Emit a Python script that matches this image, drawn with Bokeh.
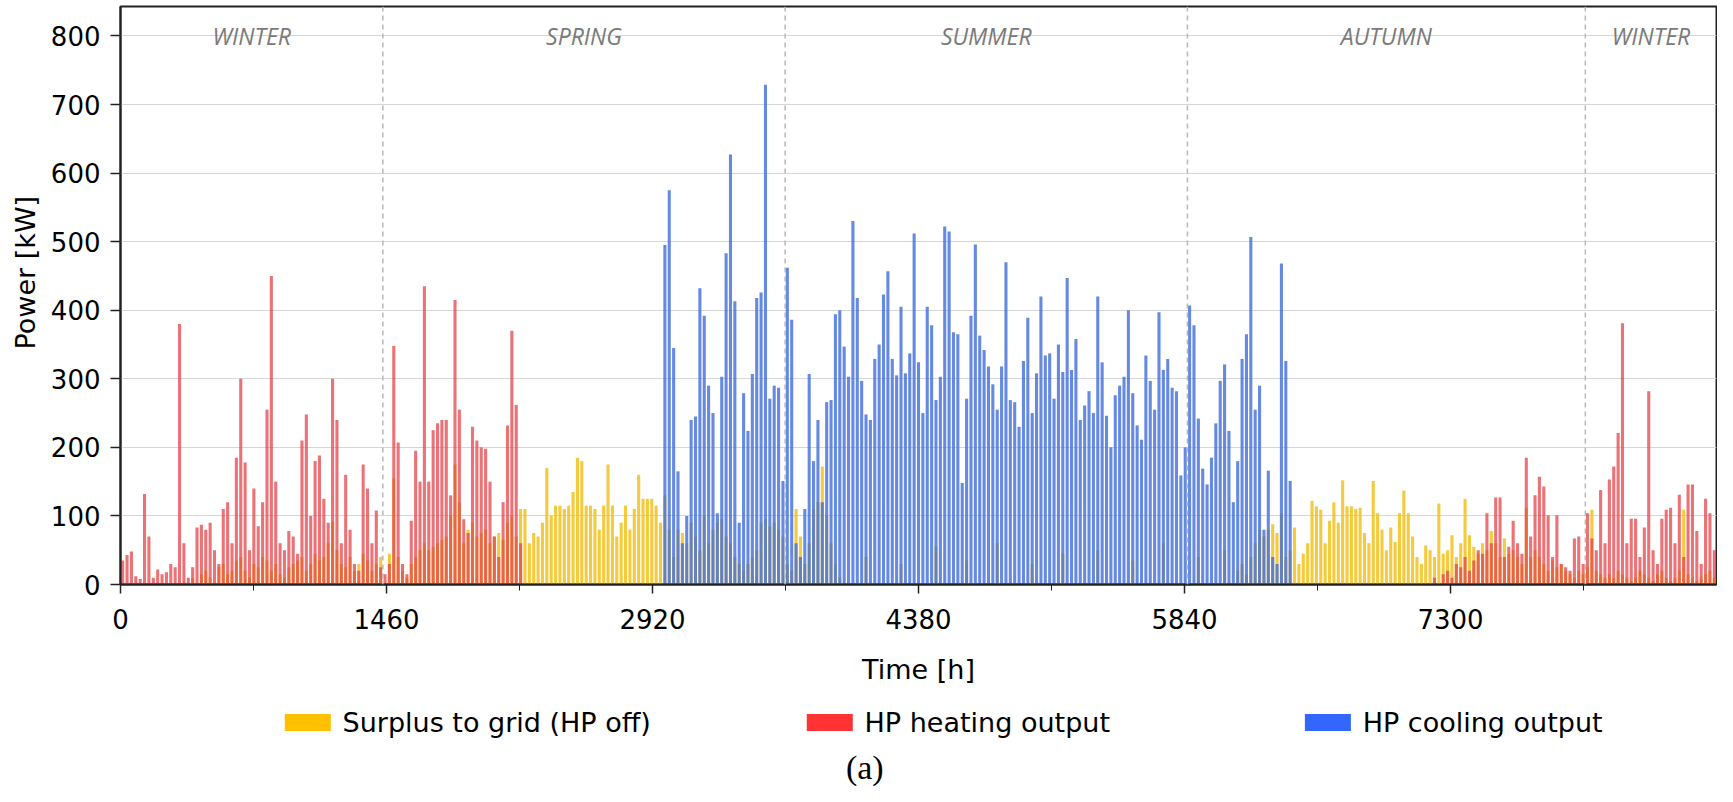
from bokeh.core.properties import value
from bokeh.embed import file_html
from bokeh.layouts import column
from bokeh.models import ColumnDataSource, FixedTicker, Label, Span, Title
from bokeh.plotting import figure
from bokeh.resources import INLINE

# daily peak power [kW]; each list starts at the given day
HEAT_SPRING_START = 0
HEAT_SPRING = [35, 43, 48, 12, 8, 132, 70, 10, 22, 15,
               18, 30, 25, 380, 60, 10, 25, 83, 87, 80,
               90, 50, 30, 110, 120, 60, 185, 300, 178, 50,
               140, 85, 120, 255, 450, 150, 60, 50, 78, 70,
               45, 210, 248, 100, 180, 188, 125, 90, 300, 240,
               60, 160, 80, 30, 20, 175, 140, 60, 108, 25,
               15, 30, 348, 207, 30, 15, 93, 195, 150, 435,
               150, 225, 235, 240, 240, 130, 415, 255, 95, 75,
               230, 210, 200, 198, 150, 70, 40, 120, 232, 370,
               262, 60]

HEAT_WINTER_START = 300
HEAT_WINTER = [10, 0, 15, 20, 10, 30, 25, 40, 20, 35,
               50, 45, 104, 60, 127, 127, 40, 55, 93, 60,
               45, 185, 70, 130, 157, 143, 101, 40, 101, 30,
               25, 20, 67, 70, 30, 104, 67, 50, 138, 60,
               153, 172, 221, 381, 60, 96, 96, 40, 83, 282,
               50, 30, 96, 109, 112, 60, 131, 40, 146, 146,
               78, 30, 125, 104, 50]

SURPLUS_WINTER_START = 15
SURPLUS_WINTER = [0, 10, 0, 15, 20, 10, 0, 25, 30, 15,
                  20, 35, 40, 20, 10, 30, 25, 40, 35, 20,
                  30, 15, 10, 25, 30, 35, 40, 20, 30, 45,
                  35, 40, 60, 92, 50, 30, 25, 40, 20, 30,
                  45, 35, 20, 30, 40]

SURPLUS_SPRING_START = 60
SURPLUS_SPRING = [0, 45, 155, 40, 20, 10, 30, 40, 50, 60,
                  50, 55, 60, 65, 70, 100, 175, 120, 60, 80,
                  90, 70, 75, 80, 60, 70, 75, 65, 90, 100,
                  70, 110, 110, 60, 75, 70, 90, 170, 100, 115,
                  115, 110, 115, 135, 185, 180, 115, 115, 110, 80,
                  115, 175, 115, 70, 90, 115, 80, 110, 160, 125,
                  125, 125, 115, 90, 130, 80, 40, 80, 75, 60,
                  90, 70, 50, 100, 60, 80, 90, 95, 70, 60,
                  40, 30, 20, 30, 40, 50, 90, 95, 85, 90,
                  80, 70, 30, 20, 110, 70, 30, 60, 110, 120,
                  172, 100, 60, 30, 10]

SURPLUS_SUMMER_DAYS = [170, 178, 186, 193, 200, 208, 215, 223, 231, 238, 246, 252]
SURPLUS_SUMMER = [40, 30, 55, 35, 60, 30, 45, 50, 35, 60, 40, 50]

SURPLUS_AUTUMN_START = 255
SURPLUS_AUTUMN = [20, 30, 15, 40, 60, 80, 70, 80, 88, 75,
                  104, 40, 50, 83, 30, 45, 60, 122, 114, 109,
                  60, 93, 120, 90, 152, 114, 114, 110, 112, 75,
                  60, 151, 104, 80, 50, 83, 62, 104, 137, 104,
                  70, 40, 30, 57, 50, 40, 118, 45, 50, 72,
                  40, 60, 125, 72, 55, 45, 60, 50, 78, 60,
                  40, 67, 45, 50, 40, 30, 112, 40, 50, 40,
                  30, 20, 35, 25, 30, 20, 15, 10, 20, 15,
                  25, 109, 20, 15, 10, 15, 10, 20, 15, 10,
                  5, 10, 20, 15, 10, 5, 15, 20, 10, 5,
                  10, 20, 109, 15, 10, 5, 10, 15, 20, 10]

COOL_START = 124
COOL = [495, 575, 345, 165, 60, 100, 240, 245, 432, 392,
        290, 250, 104, 303, 483, 627, 413, 90, 279, 224,
        307, 418, 426, 729, 271, 290, 287, 151, 462, 386,
        60, 40, 110, 307, 180, 240, 120, 266, 269, 394,
        400, 347, 303, 530, 418, 297, 248, 240, 329, 350,
        423, 457, 329, 305, 405, 308, 337, 512, 324, 250,
        405, 378, 269, 303, 522, 515, 368, 365, 148, 271,
        392, 496, 363, 342, 318, 292, 255, 318, 470, 269,
        266, 230, 326, 389, 250, 308, 420, 334, 337, 271,
        350, 310, 447, 313, 358, 240, 261, 282, 250, 420,
        324, 246, 200, 276, 290, 303, 400, 279, 232, 211,
        334, 297, 255, 397, 313, 329, 287, 282, 159, 200,
        407, 378, 242, 169, 146, 185, 235, 297, 321, 224,
        120, 180, 329, 365, 507, 255, 290, 80, 166, 40,
        30, 468, 326, 151]

SEASON_BOUNDS = [1440, 3648, 5856, 8040]
SEASONS = ["WINTER", "SPRING", "SUMMER", "AUTUMN", "WINTER"]
X_TICKS = [0, 1460, 2920, 4380, 5840, 7300]
X_MINOR = [730, 2190, 3650, 5110, 6570, 8030]
Y_TICKS = [0, 100, 200, 300, 400, 500, 600, 700, 800]

LEGEND_LABELS = ["Surplus to grid (HP off)", "HP heating output", "HP cooling output"]
LEGEND_COLORS = ["#FFC000", "#FF3333", "#3366FF"]

FONT = "DejaVu Sans"
W = 1717
LEFT, RIGHT = 114, 1


def day_source(start, vals):
    return ColumnDataSource(data=dict(x=[(start + i) * 24 + 12 for i in range(len(vals))],
                                      top=vals))


p = figure(width=W, height=687, x_range=(0, 8760), y_range=(0, 843),
           output_backend="svg", toolbar_location=None,
           min_border_left=LEFT, min_border_right=RIGHT, min_border_top=6, min_border_bottom=0)

bar_w = 17
for src in [day_source(SURPLUS_WINTER_START, SURPLUS_WINTER),
            day_source(SURPLUS_SPRING_START, SURPLUS_SPRING),
            ColumnDataSource(data=dict(x=[d * 24 + 12 for d in SURPLUS_SUMMER_DAYS], top=SURPLUS_SUMMER)),
            day_source(SURPLUS_AUTUMN_START, SURPLUS_AUTUMN)]:
    p.vbar(x="x", top="top", width=bar_w, source=src, fill_color="#F2C11C",
           fill_alpha=0.85, line_color=None)

for src in [day_source(HEAT_SPRING_START, HEAT_SPRING),
            day_source(HEAT_WINTER_START, HEAT_WINTER)]:
    p.vbar(x="x", top="top", width=bar_w, source=src, fill_color="#E4434A",
           fill_alpha=0.75, line_color=None)

p.vbar(x="x", top="top", width=bar_w, source=day_source(COOL_START, COOL),
       fill_color="#4470DA", fill_alpha=0.82, line_color=None)

# season separators and names
edges = [0] + SEASON_BOUNDS + [8760]
for b in SEASON_BOUNDS:
    p.add_layout(Span(location=b, dimension="height", line_color="#b8b8b8",
                      line_width=1.5, line_dash="5 4"))
for i, name in enumerate(SEASONS):
    p.add_layout(Label(x=(edges[i] + edges[i + 1]) / 2, y=800, text=name,
                       text_align="center", text_baseline="middle",
                       text_font="Open Sans", text_font_style="italic",
                       text_font_size="23px", text_color="#7a7a7a"))

# axes
p.xaxis.ticker = FixedTicker(ticks=X_TICKS, minor_ticks=X_MINOR)
p.yaxis.ticker = FixedTicker(ticks=Y_TICKS)
p.xaxis.axis_label = "Time [h]"
for ax in (p.xaxis, p.yaxis):
    ax.axis_label_text_font = FONT
    ax.axis_label_text_font_size = "27px"
    ax.axis_label_text_font_style = "normal"
    ax.axis_label_text_color = "black"
    ax.major_label_text_font = FONT
    ax.major_label_text_font_size = "26px"
    ax.major_label_text_color = "black"
    ax.axis_line_color = "#222222"
    ax.axis_line_width = 2
    ax.major_tick_line_color = "#222222"
    ax.major_tick_line_width = 1.5
    ax.major_tick_in = 0
p.xaxis.major_tick_out = 9
p.xaxis.minor_tick_out = 6
p.xaxis.minor_tick_in = 0
p.xaxis.minor_tick_line_color = "#222222"
p.xaxis.major_label_standoff = 15
p.xaxis.axis_label_standoff = 22
p.yaxis.major_tick_out = 10
p.yaxis.minor_tick_line_color = None
p.yaxis.major_label_standoff = 10

# y-axis title sits a little above the frame centre, as in the source figure
p.add_layout(Title(text="Power [kW]", align="left", offset=235, standoff=14,
                   text_font=FONT, text_font_size="27px", text_font_style="normal",
                   text_color="black"), "left")

p.xgrid.grid_line_color = None
p.ygrid.grid_line_color = "#d6d6d6"
p.ygrid.grid_line_width = 1.2
p.outline_line_color = "#222222"
p.outline_line_width = 2

# legend strip and panel tag below the chart, sharing the chart's x scale
lg = figure(width=W, height=99, x_range=p.x_range, y_range=(0, 99),
            output_backend="svg", toolbar_location=None,
            x_axis_location=None, y_axis_location=None,
            min_border_left=LEFT, min_border_right=RIGHT, min_border_top=0, min_border_bottom=0)
lg.grid.grid_line_color = None
lg.outline_line_color = None
sw_x = [1028, 3893, 6627]
lg.rect(x=sw_x, y=[64] * 3, width=46, height=17, width_units="screen",
        height_units="screen", fill_color=LEGEND_COLORS, line_color=None)
lg.text(x=[x + 191 for x in sw_x], y=[64] * 3, text=LEGEND_LABELS,
        text_font=value(FONT), text_font_size="27px", text_baseline="middle",
        text_color="black")
lg.text(x=[4085], y=[19], text=["(a)"], text_font=value("Liberation Serif"),
        text_font_size="34px", text_align="center", text_baseline="middle",
        text_color="black")

open("out.html", "w").write(file_html(column(p, lg, spacing=0), INLINE))
